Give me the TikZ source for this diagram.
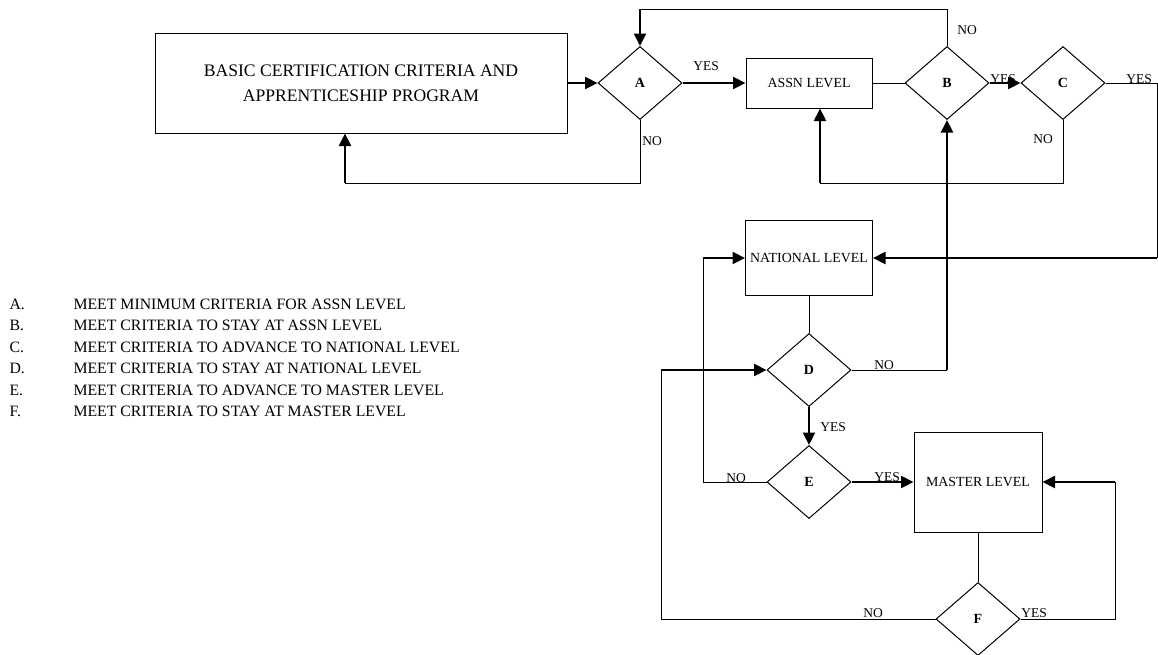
\documentclass[tikz,border=0pt]{standalone}
\usepackage{fontspec}
\setmainfont{Liberation Serif}
\usepackage{tikz}
\usetikzlibrary{shapes.geometric, arrows.meta}

\begin{document}
\begin{tikzpicture}[x=1pt, y=-1pt, line width=1pt,
  box/.style={draw, rectangle, inner sep=0pt, align=center, font=\fontsize{13.9}{16}\selectfont},
  decision/.style={draw, diamond, minimum width=84pt, minimum height=73pt, inner sep=0pt, font=\bfseries\fontsize{14}{14}\selectfont},
  lbl/.style={inner sep=0pt, font=\fontsize{13.5}{14}\selectfont},
  key/.style={inner sep=0pt, anchor=west, font=\fontsize{15.8}{19}\selectfont},
  link/.style={line width=1pt},
  flow/.style={line width=2.2pt, -{Triangle[length=12.5pt, width=12pt]}}]

  \useasboundingbox (0,0) rectangle (1158,654);

  \node[box, minimum width=412pt, minimum height=100pt, font=\fontsize{17.6}{25}\selectfont] (basic) at (361,83) {BASIC CERTIFICATION CRITERIA AND\\APPRENTICESHIP PROGRAM};
  \node[box, minimum width=126pt, minimum height=50pt] (assn) at (809,83) {ASSN LEVEL};
  \node[box, minimum width=127pt, minimum height=75pt] (national) at (809,258) {NATIONAL LEVEL};
  \node[box, minimum width=128pt, minimum height=100pt] (master) at (978,482) {MASTER LEVEL};

  \node[decision] (A) at (640,83) {A};
  \node[decision] (B) at (947,83) {B};
  \node[decision] (C) at (1063,83) {C};
  \node[decision] (D) at (809,370) {D};
  \node[decision] (E) at (809,482) {E};
  \node[decision] (F) at (978,619) {F};

  \coordinate (topA) at (640,9);
  \coordinate (underbasic) at (345,183);
  \coordinate (underassn) at (820,183);
  \coordinate (cyes) at (1157,258);
  \coordinate (dno) at (947,370);
  \coordinate (eno) at (703,258);
  \coordinate (fno) at (661,370);
  \coordinate (fyes) at (1115,482);

  \draw[flow] (basic) -- (A);
  \draw[flow] (A) -- (assn);
  \draw[link] (assn) -- (B);
  \draw[flow] (B) -- (C);
  \draw[link] (B.north) |- (topA);
  \draw[flow] (topA) -- (A.north);
  \draw[link] (A.south) |- (underbasic);
  \draw[flow] (underbasic) -- (underbasic |- basic.south);
  \draw[link] (C.south) |- (underassn);
  \draw[flow] (underassn) -- (underassn |- assn.south);
  \draw[link] (C.east) -| (cyes);
  \draw[flow] (cyes) -- (national.east);
  \draw[link] (national) -- (D);
  \draw[link] (D.east) -- (dno);
  \draw[flow] (dno) -- (B.south);
  \draw[flow] (D) -- (E);
  \draw[link] (E.west) -| (eno);
  \draw[flow] (eno) -- (national.west);
  \draw[flow] (E) -- (master);
  \draw[link] (master) -- (F);
  \draw[link] (F.west) -| (fno);
  \draw[flow] (fno) -- (D.west);
  \draw[link] (F.east) -| (fyes);
  \draw[flow] (fyes) -- (master.east);

  \node[lbl] (yesA) at (706,66) {YES};
  \node[lbl] (noA) at (652,141) {NO};
  \node[lbl] (noB) at (967,30) {NO};
  \node[lbl] (yesB) at (1003,79) {YES};
  \node[lbl] (yesC) at (1139,79) {YES};
  \node[lbl] (noC) at (1043,139) {NO};
  \node[lbl] (noD) at (884,365) {NO};
  \node[lbl] (yesD) at (833,427) {YES};
  \node[lbl] (noE) at (736,478) {NO};
  \node[lbl] (yesE) at (887,477) {YES};
  \node[lbl] (noF) at (873,613) {NO};
  \node[lbl] (yesF) at (1034,613) {YES};

  \foreach \k/\t [count=\i] in {A/MEET MINIMUM CRITERIA FOR ASSN LEVEL,
      B/MEET CRITERIA TO STAY AT ASSN LEVEL,
      C/MEET CRITERIA TO ADVANCE TO NATIONAL LEVEL,
      D/MEET CRITERIA TO STAY AT NATIONAL LEVEL,
      E/MEET CRITERIA TO ADVANCE TO MASTER LEVEL,
      F/MEET CRITERIA TO STAY AT MASTER LEVEL} {
    \node[key] (key\k) at (9,282.5+21.5*\i) {\k.};
    \node[key] (keytext\k) at (73,282.5+21.5*\i) {\t};
  }
\end{tikzpicture}
\end{document}
